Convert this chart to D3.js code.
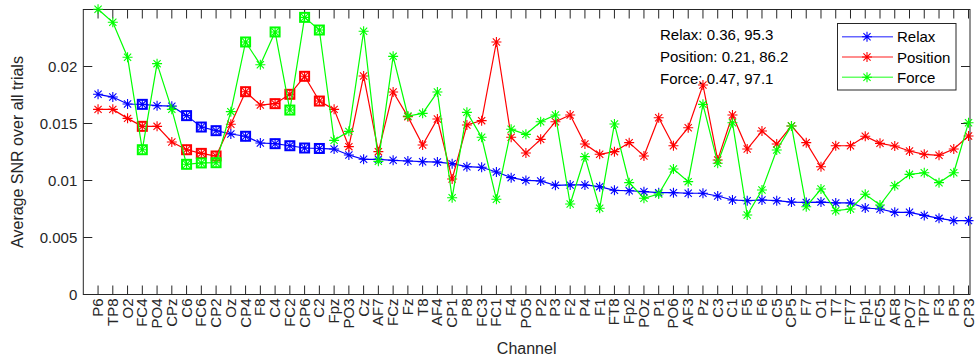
<!DOCTYPE html>
<html><head><meta charset="utf-8">
<script src="https://cdn.jsdelivr.net/npm/d3@7"></script>
<style>body{margin:0;background:#fff}svg{display:block}text{font-family:"Liberation Sans",Arial,Helvetica,sans-serif;fill:#262626}</style>
</head><body><svg id="c" width="978" height="362"></svg>
<script>
const channels = ["P6","TP8","O2","FC4","PO4","CPz","C6","FC6","CP2","Oz","CP4","F8","C4","FC2","CP6","C2","Fpz","PO3","Cz","AF7","FCz","Fz","T8","AF4","CP1","P8","FC3","FC1","F4","PO5","P2","P3","F2","P4","F1","FT8","Fp2","POz","P1","PO6","AF3","Pz","C3","C1","F5","F6","C5","CP5","F7","O1","T7","FT7","Fp1","FC5","AF8","PO7","TP7","F3","P5","CP3"];
const relax = [0.01756,0.01732,0.01671,0.01668,0.01656,0.01652,0.01569,0.01469,0.01437,0.01408,0.01388,0.01329,0.01323,0.01305,0.01285,0.01281,0.01276,0.01224,0.01186,0.01186,0.01177,0.01171,0.01165,0.01162,0.01148,0.01121,0.01116,0.01075,0.01025,0.01001,0.00996,0.00958,0.00961,0.00961,0.00946,0.00914,0.0091,0.00902,0.00893,0.00893,0.00888,0.00888,0.00864,0.00829,0.00823,0.00829,0.00823,0.00811,0.00808,0.00811,0.00803,0.00803,0.00759,0.0075,0.00721,0.00721,0.00694,0.00668,0.00648,0.00648];
const position = [0.01624,0.01624,0.01545,0.01475,0.01475,0.01338,0.0127,0.01238,0.01215,0.01493,0.01779,0.01662,0.01674,0.01756,0.01914,0.01697,0.01624,0.01297,0.01917,0.01253,0.01776,0.0156,0.01311,0.0154,0.01013,0.01487,0.01525,0.02215,0.01379,0.01241,0.01361,0.01516,0.01575,0.0132,0.0123,0.01253,0.01332,0.01215,0.01551,0.01305,0.01463,0.01838,0.0118,0.01575,0.01276,0.01434,0.0132,0.01478,0.01332,0.01121,0.01305,0.01305,0.01388,0.01326,0.01303,0.01259,0.0123,0.01221,0.01276,0.0139];
const force = [0.02502,0.02388,0.02081,0.0127,0.02025,0.01624,0.01142,0.01154,0.01156,0.01604,0.02215,0.02016,0.02303,0.01618,0.02431,0.0232,0.01352,0.01431,0.02309,0.01168,0.02089,0.01566,0.01589,0.01776,0.00849,0.01598,0.01379,0.00835,0.01449,0.01405,0.01516,0.01575,0.00794,0.01209,0.00756,0.01496,0.00981,0.00844,0.00882,0.01101,0.0099,0.01668,0.01151,0.01507,0.00697,0.00917,0.01268,0.01478,0.0077,0.00925,0.00735,0.0075,0.00879,0.00785,0.00954,0.01054,0.01068,0.00981,0.01068,0.01507];
const markedChannels = ["FC4","C6","FC6","CP2","CP4","C4","FC2","CP6","C2"];
const yTicks = [0, 0.005, 0.01, 0.015, 0.02];
const yTickLabels = ["0","0.005","0.01","0.015","0.02"];
const seriesNames = ["Relax","Position","Force"];
const seriesColors = ["#0000ff","#ff0000","#00ff00"];
const notes = ["Relax: 0.36, 95.3","Position: 0.21, 86.2","Force: 0.47, 97.1"];

const svg = d3.select("#c");
const L=83.3, R=970, T=9.5, B=294.5;
const x = d3.scaleLinear().domain([0,60.1]).range([L,R]);
const y = d3.scaleLinear().domain([0,0.025]).range([B,T]);
const ax = "#262626";
const tl = 9;

svg.append("rect").attr("x",L).attr("y",T).attr("width",R-L).attr("height",B-T)
  .attr("fill","none").attr("stroke",ax).attr("stroke-width",1);

const xt = svg.append("g");
channels.forEach((c,i)=>{
  const px = x(i+1);
  xt.append("line").attr("x1",px).attr("x2",px).attr("y1",B).attr("y2",B-tl).attr("stroke",ax);
  xt.append("line").attr("x1",px).attr("x2",px).attr("y1",T).attr("y2",T+tl).attr("stroke",ax);
  xt.append("text").attr("transform",`translate(${px+5},${B+4}) rotate(-90)`)
    .attr("text-anchor","end").attr("font-size",15).text(c);
});
yTicks.forEach((v,i)=>{
  const py = y(v);
  svg.append("line").attr("x1",L).attr("x2",L+tl).attr("y1",py).attr("y2",py).attr("stroke",ax);
  svg.append("line").attr("x1",R).attr("x2",R-tl).attr("y1",py).attr("y2",py).attr("stroke",ax);
  svg.append("text").attr("x",L-6).attr("y",py+5).attr("text-anchor","end").attr("font-size",15).text(yTickLabels[i]);
});
svg.append("text").attr("transform",`translate(23,${(T+B)/2}) rotate(-90)`).attr("text-anchor","middle").attr("font-size",16).text("Average SNR over all trials");
svg.append("text").attr("x",(L+R)/2).attr("y",354).attr("text-anchor","middle").attr("font-size",16).text("Channel");

function star(g,cx,cy,col){
  const r=5, d=3.6;
  g.append("path").attr("d",`M${cx-r},${cy}H${cx+r}M${cx},${cy-r}V${cy+r}M${cx-d},${cy-d}L${cx+d},${cy+d}M${cx-d},${cy+d}L${cx+d},${cy-d}`)
   .attr("stroke",col).attr("stroke-width",1.1).attr("fill","none");
}
const data = [relax, position, force];
data.forEach((vals,k)=>{
  const col = seriesColors[k];
  const g = svg.append("g");
  g.append("path").datum(vals).attr("fill","none").attr("stroke",col).attr("stroke-width",1.2)
    .attr("d", d3.line().x((d,i)=>x(i+1)).y(d=>y(d)));
  vals.forEach((v,i)=>{
    star(g,x(i+1),y(v),col);
    if (markedChannels.includes(channels[i])) {
      g.append("rect").attr("x",x(i+1)-4.5).attr("y",y(v)-4.5).attr("width",9).attr("height",9)
        .attr("fill","none").attr("stroke",col).attr("stroke-width",2);
    }
  });
});

notes.forEach((t,i)=>{
  svg.append("text").attr("x",660).attr("y",40+i*22).attr("font-size",15).style("fill","#000").text(t);
});

const lg = svg.append("g");
lg.append("rect").attr("x",837.5).attr("y",23.5).attr("width",118.5).attr("height",66.5).attr("fill","#fff").attr("stroke",ax);
seriesNames.forEach((n,i)=>{
  const yy = 36.7 + i*20.3;
  lg.append("line").attr("x1",842).attr("x2",893).attr("y1",yy).attr("y2",yy).attr("stroke",seriesColors[i]).attr("stroke-width",1.5).attr("stroke-opacity",0.6);
  star(lg,867,yy,seriesColors[i]);
  lg.append("text").attr("x",897).attr("y",yy+5.5).attr("font-size",15).style("fill","#000").text(n);
});
</script></body></html>
